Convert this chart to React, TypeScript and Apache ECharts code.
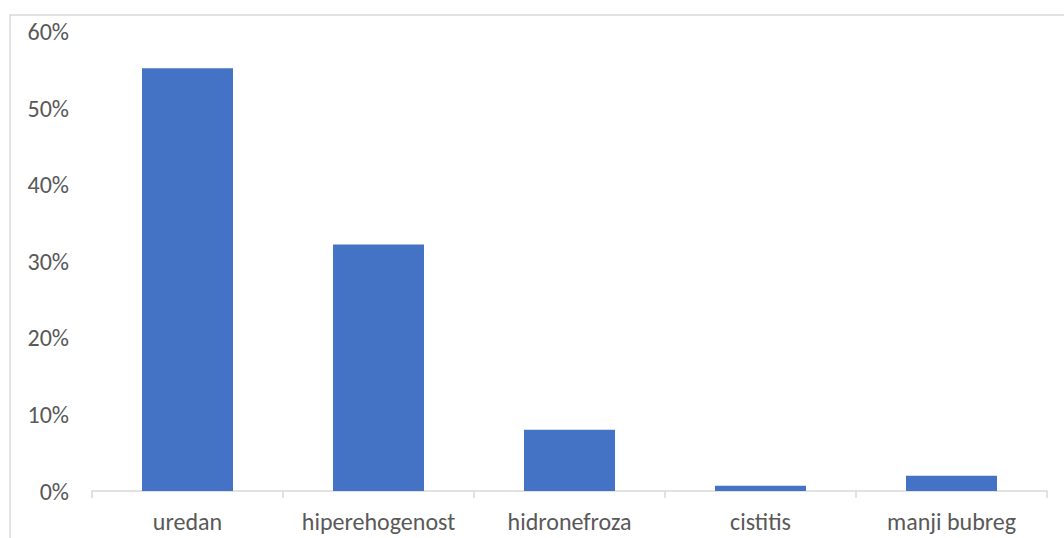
import React, { useEffect, useRef } from "react";
import * as echarts from "echarts";

const categories = ["uredan", "hiperehogenost", "hidronefroza", "cistitis", "manji bubreg"];
const values = [55.2, 32.2, 8.0, 0.7, 2.0];
const yTicks = [0, 10, 20, 30, 40, 50, 60];

export default function App() {
  const ref = useRef<HTMLDivElement>(null);
  useEffect(() => {
    if (!ref.current) return;
    const chart = echarts.init(ref.current, null, { renderer: "svg" });
    const font = "Carlito, 'Open Sans', sans-serif";
    chart.setOption({
      animation: false,
      backgroundColor: "#ffffff",
      graphic: [
        {
          type: "rect",
          shape: { x: 10, y: 15, width: 1070, height: 540 },
          style: { fill: "none", stroke: "#d9d9d9", lineWidth: 1.5 },
          silent: true,
        },
      ],
      grid: { left: 92, right: 17, top: 31.5, bottom: 47 },
      xAxis: {
        type: "category",
        data: categories,
        axisLine: { lineStyle: { color: "#d9d9d9", width: 1.5 } },
        axisTick: { show: true, interval: 0, length: 7, lineStyle: { color: "#d9d9d9", width: 1.5 } },
        axisLabel: { interval: 0, color: "#595959", fontSize: 24, fontFamily: font, margin: 18 },
      },
      yAxis: {
        type: "value",
        min: yTicks[0],
        max: yTicks[yTicks.length - 1],
        interval: 10,
        axisLine: { show: false },
        axisTick: { show: false },
        splitLine: { show: false },
        axisLabel: {
          color: "#595959",
          fontSize: 24,
          fontFamily: font,
          margin: 23,
          formatter: "{value}%",
        },
      },
      series: [
        {
          type: "bar",
          data: values,
          barWidth: 91,
          itemStyle: { color: "#4472C4" },
        },
      ],
    });
    return () => chart.dispose();
  }, []);
  return (
    <div
      ref={ref}
      style={{ position: "fixed", left: 0, top: 0, width: 1064, height: 538 }}
    />
  );
}
